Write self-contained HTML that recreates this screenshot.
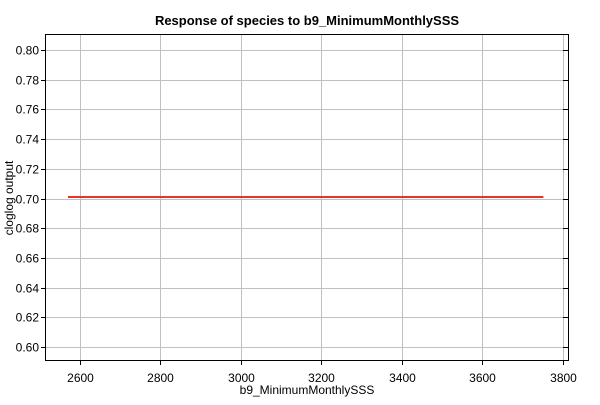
<!DOCTYPE html>
<html><head><style>
body{margin:0;background:#fff;}
svg{font-family:"Liberation Sans",sans-serif;}
</style></head><body>
<svg width="600" height="400" id="c">
<rect width="600" height="400" fill="#fff"/>
<text x="307" y="25" text-anchor="middle" font-size="13" font-weight="bold">Response of species to b9_MinimumMonthlySSS</text>
<text x="307" y="394" text-anchor="middle" font-size="12">b9_MinimumMonthlySSS</text>
<text transform="translate(13,198) rotate(-90)" text-anchor="middle" font-size="12">cloglog output</text>
<g id="grid"></g><g id="marks"></g>
<rect x="45.5" y="34.5" width="523" height="326" fill="none" stroke="#000"/>
</svg>
<script>
const xTicks=[2600,2800,3000,3200,3400,3600,3800];
const yTicks=[0.60,0.62,0.64,0.66,0.68,0.70,0.72,0.74,0.76,0.78,0.80];
const lineX=[2570,3752];
const lineY=[0.701,0.701];
const xs=v=>80+(v-2600)*80.45/200;
const ys=v=>347-(v-0.60)*29.7/0.02;
const NS="http://www.w3.org/2000/svg";
const g=document.getElementById('grid'),m=document.getElementById('marks');
function mk(p,t,a){const e=document.createElementNS(NS,t);for(const k in a)e.setAttribute(k,a[k]);p.appendChild(e);return e;}
xTicks.forEach(v=>{const x=Math.round(xs(v))+0.5;
 const l=mk(g,'line',{x1:x,x2:x,y1:35,y2:360,stroke:'#c0c0c0'});
 
 
 const t=mk(g,'line',{x1:x,x2:x,y1:360,y2:365,stroke:'#000'});
 
 
 const tx=mk(g,'text',{x:x,y:382,'text-anchor':'middle','font-size':12});
 tx.textContent=v;
 
 });
yTicks.forEach(v=>{const y=Math.round(ys(v))+0.5;
 const l=mk(g,'line',{x1:46,x2:568,y1:y,y2:y,stroke:'#c0c0c0'});
 
 
 const t=mk(g,'line',{x1:41,x2:46,y1:y,y2:y,stroke:'#000'});
 
 
 const t2=mk(g,'line',{x1:563,x2:568,y1:y,y2:y,stroke:'#000'});
 
 
 const tx=mk(g,'text',{x:39,y:y+4,'text-anchor':'end','font-size':12});
 tx.textContent=v.toFixed(2);
 
 });
const pts=lineX.map((x,i)=>xs(x)+','+ys(lineY[i])).join(' ');
const pl=mk(m,'polyline',{points:pts,fill:'none',stroke:'#e8332a','stroke-width':2});


</script>
</body></html>
